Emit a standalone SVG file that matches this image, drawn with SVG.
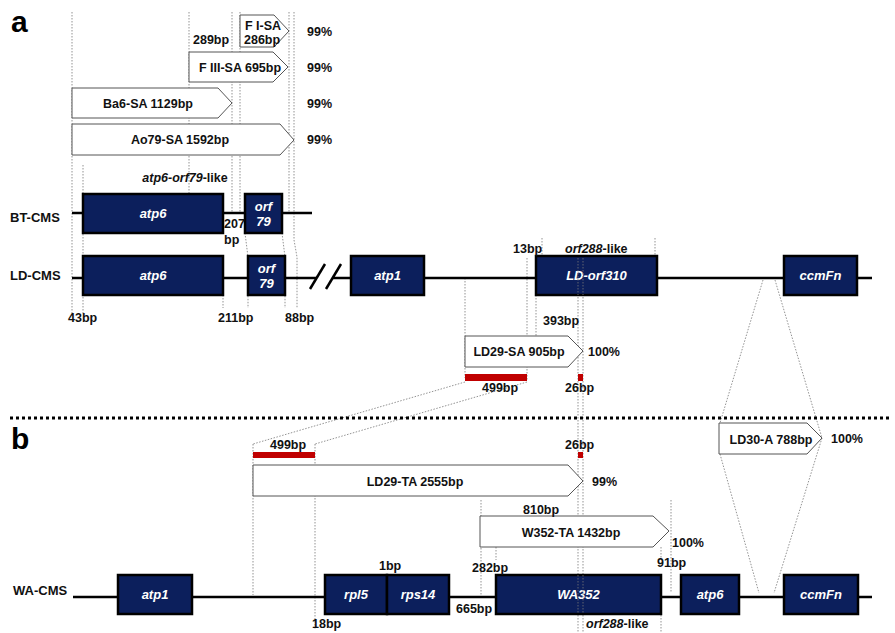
<svg xmlns="http://www.w3.org/2000/svg" width="895" height="633" viewBox="0 0 895 633">
<style>
.t{font-family:"Liberation Sans",Arial,sans-serif;font-weight:bold;font-size:12.5px;fill:#111}
.m{text-anchor:middle}
.g{font-family:"Liberation Sans",Arial,sans-serif;font-weight:bold;font-style:italic;font-size:13px;fill:#fff;text-anchor:middle}
.gene{fill:#0c1f5c;stroke:#000;stroke-width:2.5}
.frag{fill:#fff;stroke:#555;stroke-width:1}
.dot{fill:none;stroke:#777;stroke-width:0.8;stroke-dasharray:1.5 1.5}
.ln{stroke:#000;stroke-width:2.5}
.red{fill:#c00000}
.big{font-family:"Liberation Sans",Arial,sans-serif;font-weight:bold;font-size:30px;fill:#000}
</style>
<rect width="895" height="633" fill="#fff"/>
<g id="guides">
<path class="dot" d="M72 12V315M83 165V315M189 12V193M232 12V213M240 12V213M289 12V213M294 12V240L297 257V308M282 233L285 257V308M245 233L248 257V308M223 295V308"/>
<path class="dot" d="M465 278V378M527 258V380M536 295V340M542 238V256M655 238V256M578 258V633M583 258V633"/>
<path class="dot" d="M465 382L253 444M527 382L315 444M253 444V595M315 444V630"/>
<path class="dot" d="M763 280L720 423M775 280L822 438M720 454L759 593M822 438L774 593"/>
<path class="dot" d="M481 500V595M496 547V560M661 547V558M661 615V632M671 500V593"/>
</g>
<g id="connectors">
<line class="ln" x1="72" y1="213" x2="312" y2="213"/>
<line class="ln" x1="72" y1="278" x2="317" y2="278"/>
<line class="ln" x1="333" y1="278" x2="872" y2="278"/>
<line class="ln" x1="310" y1="289" x2="325" y2="264"/>
<line class="ln" x1="326" y1="289" x2="341" y2="264"/>
<line class="ln" x1="73" y1="597" x2="872" y2="597"/>
<line x1="10" y1="418" x2="892" y2="418" stroke="#000" stroke-width="3" stroke-dasharray="3 3"/>
</g>
<text class="big" x="11" y="32">a</text>
<text class="big" x="11" y="449">b</text>
<g id="labels">
<text class="t" x="10" y="222" style="font-size:13px">BT-CMS</text>
<text class="t" x="10" y="280" style="font-size:13px">LD-CMS</text>
<text class="t" x="13" y="595" style="font-size:13px">WA-CMS</text>
</g>
<g id="FI-SA">
<polygon class="frag" points="240,15 274,15 289,31 274,47 240,47"/>
<text class="t" x="245" y="30">F I-SA</text>
<text class="t" x="244" y="44">286bp</text>
<text class="t" x="193" y="44">289bp</text>
<text class="t" x="307" y="36">99%</text>
</g>
<g id="FIII-SA">
<polygon class="frag" points="189,52 273,52 288,67 273,82 189,82"/>
<text class="t m" x="240" y="72">F III-SA 695bp</text>
<text class="t" x="307" y="72">99%</text>
</g>
<g id="Ba6-SA">
<polygon class="frag" points="72,88 218,88 232,103 218,118 72,118"/>
<text class="t m" x="148" y="108">Ba6-SA 1129bp</text>
<text class="t" x="307" y="108">99%</text>
</g>
<g id="Ao79-SA">
<polygon class="frag" points="72,124 280,124 294,140 280,155 72,155"/>
<text class="t m" x="180" y="144">Ao79-SA 1592bp</text>
<text class="t" x="307" y="144">99%</text>
</g>
<text class="t m" x="185" y="182"><tspan font-style="italic">atp6-orf79</tspan>-like</text>
<g id="BT-atp6">
<rect class="gene" x="83" y="194" width="140" height="39"/>
<text class="g" x="153" y="218">atp6</text>
</g>
<g id="BT-orf79">
<rect class="gene" x="245" y="194" width="37" height="39"/>
<text class="g" x="263.5" y="211">orf</text>
<text class="g" x="263.5" y="226">79</text>
</g>
<text class="t" x="224" y="228">207</text>
<text class="t" x="224" y="244">bp</text>
<g id="LD-atp6">
<rect class="gene" x="83" y="256" width="140" height="39"/>
<text class="g" x="153" y="280">atp6</text>
</g>
<g id="LD-orf79">
<rect class="gene" x="248" y="256" width="37" height="39"/>
<text class="g" x="266.5" y="273">orf</text>
<text class="g" x="266.5" y="288">79</text>
</g>
<g id="LD-atp1">
<rect class="gene" x="351" y="256" width="73" height="39"/>
<text class="g" x="387.5" y="280">atp1</text>
</g>
<g id="LD-orf310">
<rect class="gene" x="536" y="256" width="121" height="39"/>
<text class="g" x="596.5" y="280">LD-orf310</text>
</g>
<g id="LD-ccmFn">
<rect class="gene" x="784" y="256" width="73" height="39"/>
<text class="g" x="820.5" y="280">ccmFn</text>
</g>
<path class="dot" d="M578 258V295M583 258V295"/>
<g id="ld-bp">
<text class="t" x="68" y="322">43bp</text>
<text class="t" x="218" y="322">211bp</text>
<text class="t" x="285" y="322">88bp</text>
<text class="t" x="513" y="253">13bp</text>
<text class="t" x="565" y="253"><tspan font-style="italic">orf288</tspan>-like</text>
<text class="t" x="543" y="325">393bp</text>
</g>
<g id="LD29-SA">
<polygon class="frag" points="465,336 568,336 583,351 568,367 465,367"/>
<text class="t m" x="519" y="356">LD29-SA 905bp</text>
<text class="t" x="588" y="356">100%</text>
<rect class="red" x="465" y="374" width="62" height="7"/>
<rect class="red" x="578" y="374" width="5" height="7"/>
<text class="t" x="482" y="392">499bp</text>
<text class="t" x="565" y="392">26bp</text>
</g>
<g id="LD29-TA">
<rect class="red" x="253" y="452" width="62" height="6"/>
<rect class="red" x="578" y="452" width="5" height="6"/>
<text class="t" x="270" y="449">499bp</text>
<text class="t" x="565" y="449">26bp</text>
<polygon class="frag" points="253,465 568,465 583,481 568,496 253,496"/>
<text class="t m" x="415" y="486">LD29-TA 2555bp</text>
<text class="t" x="592" y="486">99%</text>
</g>
<g id="LD30-A">
<polygon class="frag" points="719,423 807,423 822,438 807,454 719,454"/>
<text class="t m" x="771" y="444">LD30-A 788bp</text>
<text class="t" x="831" y="443">100%</text>
</g>
<g id="W352-TA">
<polygon class="frag" points="480,516 653,516 669,531 653,547 480,547"/>
<text class="t m" x="571" y="537">W352-TA 1432bp</text>
<text class="t" x="523" y="514">810bp</text>
<text class="t" x="672" y="547">100%</text>
</g>
<g id="WA-atp1">
<rect class="gene" x="118" y="575" width="74" height="39"/>
<text class="g" x="155" y="599">atp1</text>
</g>
<g id="WA-rpl5">
<rect class="gene" x="325" y="575" width="62" height="39"/>
<text class="g" x="356" y="599">rpl5</text>
</g>
<g id="WA-rps14">
<rect class="gene" x="387" y="575" width="62" height="39"/>
<text class="g" x="418" y="599">rps14</text>
</g>
<g id="WA-WA352">
<rect class="gene" x="496" y="575" width="165" height="39"/>
<text class="g" x="578.5" y="599">WA352</text>
</g>
<g id="WA-atp6">
<rect class="gene" x="681" y="575" width="58" height="39"/>
<text class="g" x="710" y="599">atp6</text>
</g>
<g id="WA-ccmFn">
<rect class="gene" x="784" y="575" width="74" height="39"/>
<text class="g" x="821" y="599">ccmFn</text>
</g>
<path class="dot" d="M578 575V614M583 575V614"/>
<g id="wa-bp">
<text class="t" x="379" y="570">1bp</text>
<text class="t" x="472" y="572">282bp</text>
<text class="t" x="657" y="567">91bp</text>
<text class="t" x="456" y="613">665bp</text>
<text class="t" x="312" y="628">18bp</text>
<text class="t" x="586" y="628"><tspan font-style="italic">orf288</tspan>-like</text>
</g>
</svg>
